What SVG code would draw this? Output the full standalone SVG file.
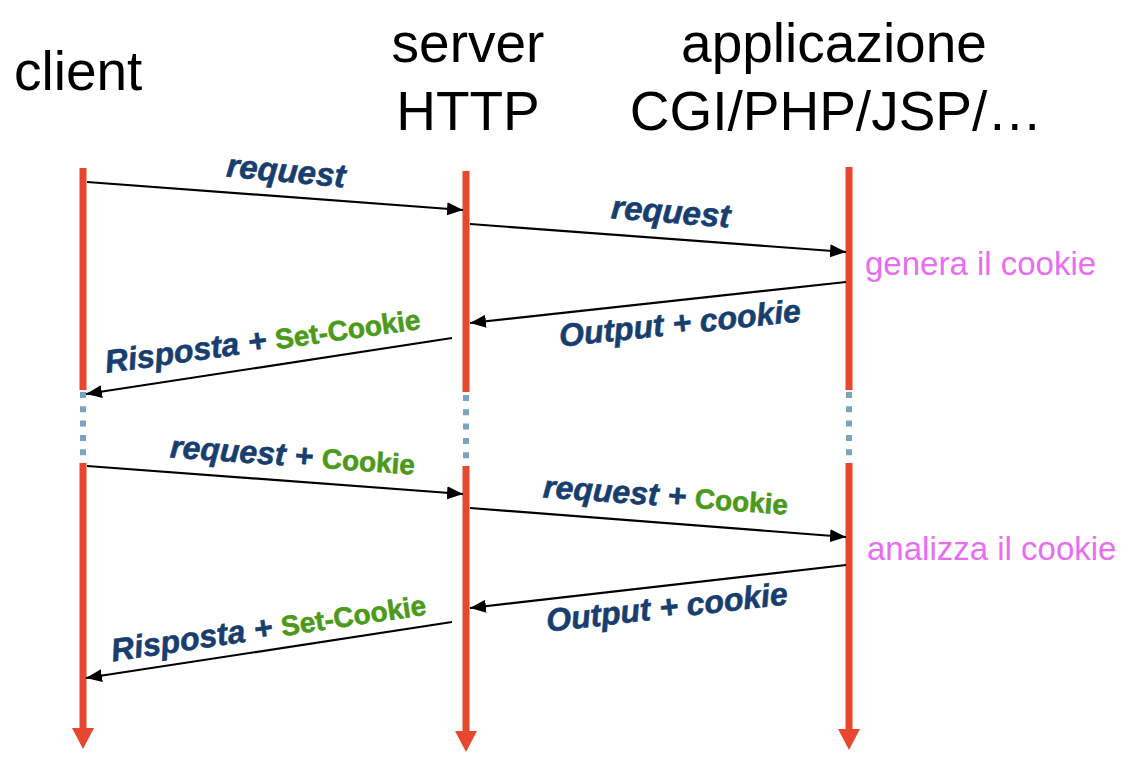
<svg xmlns="http://www.w3.org/2000/svg" width="1128" height="760" viewBox="0 0 1128 760">
<style>
.hdr{font-family:"Liberation Sans",Arial,sans-serif;font-size:55px;fill:#000}
.life{stroke:#e8472f;stroke-width:7;fill:none}
.dots{stroke:#7ba4bf;stroke-width:6;stroke-dasharray:6 8.3;fill:none}
.head{fill:#e8472f}
.msg{stroke:#000;stroke-width:2.2;fill:none;marker-end:url(#ah)}
.lbl{font-family:"Liberation Sans",Arial,sans-serif;font-size:32px;font-weight:bold;font-style:italic;fill:#173e6e;stroke:#173e6e;stroke-width:0.6}
.g{fill:#4b9a1a;stroke:#4b9a1a;font-style:normal;font-size:28px}
.note{font-family:"Liberation Sans",Arial,sans-serif;font-size:33px;fill:#e96df2}
</style>
<defs>
<marker id="ah" markerUnits="userSpaceOnUse" markerWidth="17" markerHeight="14" refX="16" refY="6.5" orient="auto">
<path d="M0,0 L16,6.5 L0,13 z" fill="#000"/>
</marker>
</defs>
<rect width="1128" height="760" fill="#fff"/>

<g id="client">
<text class="hdr" x="14" y="90">client</text>
<line class="life" x1="83" y1="168" x2="83" y2="390"/>
<line class="dots" x1="83" y1="392" x2="83" y2="458"/>
<line class="life" x1="83" y1="463" x2="83" y2="731"/>
<polygon class="head" points="72,728 94,728 83,749"/>
</g>

<g id="server">
<text class="hdr" x="468" y="62" text-anchor="middle">server</text>
<text class="hdr" x="468" y="130" text-anchor="middle">HTTP</text>
<line class="life" x1="466" y1="171" x2="466" y2="392"/>
<line class="dots" x1="466" y1="395" x2="466" y2="460"/>
<line class="life" x1="466" y1="466" x2="466" y2="734"/>
<polygon class="head" points="455,731 477,731 466,752"/>
</g>

<g id="app">
<text class="hdr" x="834" y="62" text-anchor="middle">applicazione</text>
<text class="hdr" x="836" y="130" text-anchor="middle">CGI/PHP/JSP/…</text>
<line class="life" x1="849" y1="167" x2="849" y2="390"/>
<line class="dots" x1="849" y1="392" x2="849" y2="458"/>
<line class="life" x1="849" y1="463" x2="849" y2="731"/>
<polygon class="head" points="838,729 860,729 849,750"/>
<text class="note" x="865" y="275">genera il cookie</text>
<text class="note" x="867" y="560">analizza il cookie</text>
</g>

<g id="connectors">
<line class="msg" x1="87" y1="182" x2="463" y2="210"/>
<line class="msg" x1="470" y1="224" x2="846" y2="252"/>
<line class="msg" x1="846" y1="282" x2="470" y2="323"/>
<line class="msg" x1="452" y1="338" x2="86" y2="394"/>
<line class="msg" x1="87" y1="466" x2="463" y2="494"/>
<line class="msg" x1="470" y1="508" x2="846" y2="537"/>
<line class="msg" x1="846" y1="565" x2="470" y2="608"/>
<line class="msg" x1="452" y1="622" x2="86" y2="678"/>
</g>

<g id="labels">
<text class="lbl" transform="translate(285,182) rotate(5.2)" text-anchor="middle" style="font-size:33px">request</text>
<text class="lbl" transform="translate(670,223) rotate(4.5)" text-anchor="middle" style="font-size:33px">request</text>
<text class="lbl" transform="translate(681,334) rotate(-6)" text-anchor="middle">Output + cookie</text>
<text class="lbl" transform="translate(264,351) rotate(-8)" text-anchor="middle">Risposta + <tspan class="g">Set-Cookie</tspan></text>
<text class="lbl" transform="translate(292,466) rotate(4)" text-anchor="middle">request + <tspan class="g">Cookie</tspan></text>
<text class="lbl" transform="translate(665,506) rotate(4)" text-anchor="middle">request + <tspan class="g">Cookie</tspan></text>
<text class="lbl" transform="translate(668,618) rotate(-6.5)" text-anchor="middle">Output + cookie</text>
<text class="lbl" transform="translate(270,638) rotate(-8.5)" text-anchor="middle">Risposta + <tspan class="g">Set-Cookie</tspan></text>
</g>
</svg>
